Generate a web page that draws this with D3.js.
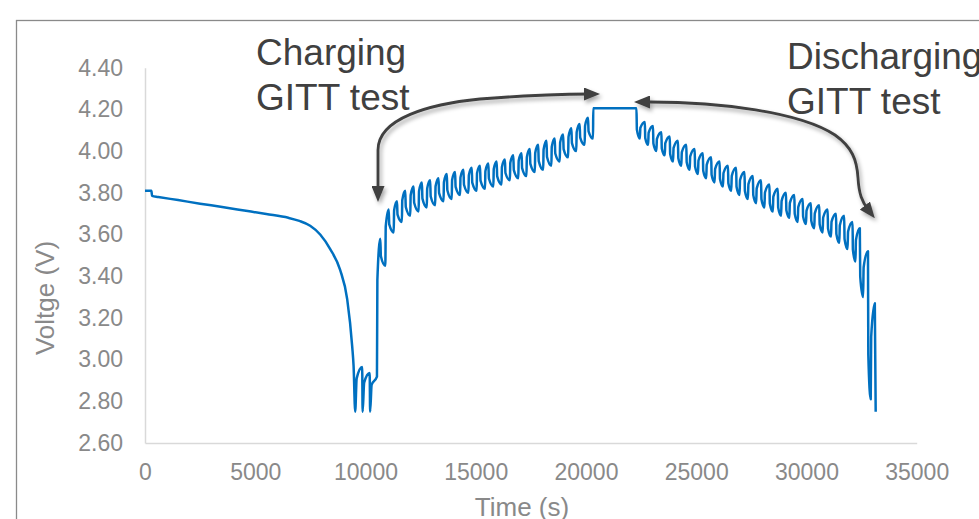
<!DOCTYPE html>
<html>
<head>
<meta charset="utf-8">
<script src="https://cdn.jsdelivr.net/npm/d3@7"></script>
<style>
  body { margin: 0; background: #fff; }
  svg { display: block; }
  text { font-family: "Liberation Sans", Arial, sans-serif; }
</style>
</head>
<body>
<svg id="chart"></svg>
<script>
const W = 979
const H = 519

// axis ticks
const xTicks = [0, 5000, 10000, 15000, 20000, 25000, 30000, 35000]
const yTicks = [2.6, 2.8, 3.0, 3.2, 3.4, 3.6, 3.8, 4.0, 4.2, 4.4]

// first discharge down to cut-off, then three short rests (time s, voltage V)
const initT = [0, 290, 320, 600, 1500, 2500, 3500, 4500, 5500, 6500, 7000, 7490, 7945, 8400, 8850, 9170, 9400, 9460, 9534,
  9600, 9850, 9870, 9940, 10190, 10210, 10280, 10520]
const initV = [3.81, 3.81, 3.785, 3.78, 3.765, 3.748, 3.732, 3.715, 3.698, 3.68, 3.665, 3.642, 3.60, 3.53, 3.43, 3.29, 3.06, 2.97, 2.75,
  2.91, 2.965, 2.75, 2.89, 2.936, 2.75, 2.88, 2.918]

// charging GITT: pulse start times (last entry = end of last rest), peak and relaxed voltage per pulse
const chargeT = [10520, 10900, 11280, 11650, 12030, 12410, 12780, 13160, 13540, 13910, 14290, 14670, 15040, 15420,
  15800, 16170, 16550, 16930, 17300, 17680, 18060, 18430, 18810, 19190, 19560, 19940, 20320]
const chargePeak = [3.58, 3.72, 3.76, 3.81, 3.83, 3.85, 3.86, 3.87, 3.89, 3.90, 3.91, 3.92, 3.93, 3.94, 3.95, 3.96,
  3.98, 3.99, 4.01, 4.03, 4.05, 4.06, 4.08, 4.11, 4.13, 4.16]
const chargeRest = [3.45, 3.61, 3.66, 3.69, 3.71, 3.73, 3.74, 3.76, 3.77, 3.79, 3.80, 3.81, 3.82, 3.83, 3.84, 3.86,
  3.87, 3.88, 3.90, 3.91, 3.93, 3.95, 3.97, 4.00, 4.03, 4.06]

// constant voltage hold at the top
const holdT = [20330, 22290]
const holdV = [4.205, 4.205]

// discharging GITT
const dischargeT = [22290, 22670, 23040, 23420, 23800, 24170, 24550, 24930, 25300, 25680, 26060, 26440, 26810, 27190,
  27570, 27940, 28320, 28700, 29070, 29450, 29830, 30200, 30580, 30960, 31340, 31710, 32090, 32420, 32790, 33100]
const dischargeLow = [4.06, 4.03, 4.00, 3.98, 3.95, 3.93, 3.91, 3.89, 3.87, 3.85, 3.83, 3.81, 3.79, 3.77, 3.75, 3.73,
  3.71, 3.69, 3.68, 3.66, 3.65, 3.63, 3.61, 3.59, 3.56, 3.53, 3.47, 3.30, 2.81]
const dischargeRest = [4.14, 4.12, 4.09, 4.07, 4.05, 4.03, 4.01, 3.99, 3.97, 3.95, 3.93, 3.92, 3.90, 3.88, 3.86, 3.84,
  3.82, 3.80, 3.79, 3.77, 3.75, 3.74, 3.72, 3.70, 3.69, 3.66, 3.63, 3.52, 3.27]
const endT = [33140]
const endV = [2.75]

const svg = d3.select('#chart').attr('width', W).attr('height', H)

svg.append('rect').attr('width', W).attr('height', H).attr('fill', '#fff')

// outer chart frame (runs off the right and bottom edges)
svg.append('rect')
  .attr('x', 16.5).attr('y', 20.5)
  .attr('width', 1000).attr('height', 600)
  .attr('fill', 'none')
  .attr('stroke', '#8a8a8a')
  .attr('stroke-width', 1.3)

const x = d3.scaleLinear().domain([0, 35000]).range([145, 916.7])
const y = d3.scaleLinear().domain([2.6, 4.4]).range([443, 67.7])

// build the voltage trace
const pts = initT.map((t, i) => [t, initV[i]])

function addPulses(T, ext, rest) {
  let prev = pts[pts.length - 1][1]
  for (let i = 0; i < ext.length; i++) {
    const t0 = T[i], P = T[i + 1] - T[i]
    pts.push([t0 + 0.05 * P, prev + 0.7 * (ext[i] - prev)])
    pts.push([t0 + 0.4 * P, ext[i]])
    pts.push([t0 + 0.47 * P, ext[i] + 0.65 * (rest[i] - ext[i])])
    pts.push([T[i + 1], rest[i]])
    prev = rest[i]
  }
}

addPulses(chargeT, chargePeak, chargeRest)
holdT.forEach((t, i) => pts.push([t, holdV[i]]))
addPulses(dischargeT, dischargeLow, dischargeRest)
endT.forEach((t, i) => pts.push([t, endV[i]]))

// axes
const xAxis = svg.append('g')
  .attr('transform', 'translate(0,' + y(2.6) + ')')
  .call(d3.axisBottom(x).tickValues(xTicks).tickSize(0).tickSizeOuter(0).tickPadding(21).tickFormat(d3.format('d')))
xAxis.attr('font-size', 23).attr('font-family', '"Liberation Sans", Arial, sans-serif')
xAxis.select('.domain').attr('stroke', '#d9d9d9').attr('stroke-width', 1.5)
xAxis.selectAll('text').attr('fill', '#898989')

const yAxis = svg.append('g')
  .attr('transform', 'translate(' + x(0) + ',0)')
  .call(d3.axisLeft(y).tickValues(yTicks).tickSize(0).tickSizeOuter(0).tickPadding(22).tickFormat(d3.format('.2f')))
yAxis.attr('font-size', 23).attr('font-family', '"Liberation Sans", Arial, sans-serif')
yAxis.select('.domain').attr('stroke', '#d9d9d9').attr('stroke-width', 1.5)
yAxis.selectAll('text').attr('fill', '#898989')

// axis titles
svg.append('text')
  .attr('x', 522).attr('y', 516)
  .attr('text-anchor', 'middle')
  .attr('font-size', 26)
  .attr('fill', '#898989')
  .text('Time (s)')

svg.append('text')
  .attr('transform', 'translate(54,298) rotate(-90)')
  .attr('text-anchor', 'middle')
  .attr('font-size', 26)
  .attr('fill', '#898989')
  .text('Voltge (V)')

// data line
const line = d3.line()
  .x(d => x(d[0]))
  .y(d => y(d[1]))
  .curve(d3.curveMonotoneX)

svg.append('path')
  .datum(pts)
  .attr('d', line)
  .attr('fill', 'none')
  .attr('stroke', '#0070c0')
  .attr('stroke-width', 2.5)
  .attr('stroke-linejoin', 'round')

// annotation arrows
const defs = svg.append('defs')
defs.append('marker')
  .attr('id', 'head')
  .attr('viewBox', '0 0 16 13')
  .attr('refX', 6).attr('refY', 6.5)
  .attr('markerWidth', 16).attr('markerHeight', 13)
  .attr('markerUnits', 'userSpaceOnUse')
  .attr('orient', 'auto-start-reverse')
  .append('path')
  .attr('d', 'M0,0 L16,6.5 L0,13 Z')
  .attr('fill', '#404040')

const shadow = defs.append('filter').attr('id', 'shadow')
  .attr('x', '-20%').attr('y', '-20%').attr('width', '140%').attr('height', '140%')
shadow.append('feDropShadow')
  .attr('dx', 2).attr('dy', 3).attr('stdDeviation', 2)
  .attr('flood-color', '#000').attr('flood-opacity', 0.35)

const arrows = svg.append('g').attr('filter', 'url(#shadow)')
arrows.append('path')
  .attr('d', 'M378,192 L378,150 C378,118 430,104 480,99 C530,95 560,94 590,94')
arrows.append('path')
  .attr('d', 'M644,102 L650,102 C720,102 800,112 835,135 C852,147 857,160 858,178 C859,194 862,202 868.6,210.3')
arrows.selectAll('path')
  .attr('fill', 'none')
  .attr('stroke', '#404040')
  .attr('stroke-width', 2.8)
  .attr('marker-start', 'url(#head)')
  .attr('marker-end', 'url(#head)')

// annotation labels
const notes = [
  { x: 256, y: 65, t: 'Charging' },
  { x: 256, y: 110, t: 'GITT test' },
  { x: 787, y: 69, t: 'Discharging' },
  { x: 787, y: 114, t: 'GITT test' }
]
svg.selectAll('text.note')
  .data(notes)
  .enter()
  .append('text')
  .attr('class', 'note')
  .attr('x', d => d.x)
  .attr('y', d => d.y)
  .attr('font-size', 37)
  .attr('fill', '#404040')
  .text(d => d.t)
</script>
</body>
</html>
